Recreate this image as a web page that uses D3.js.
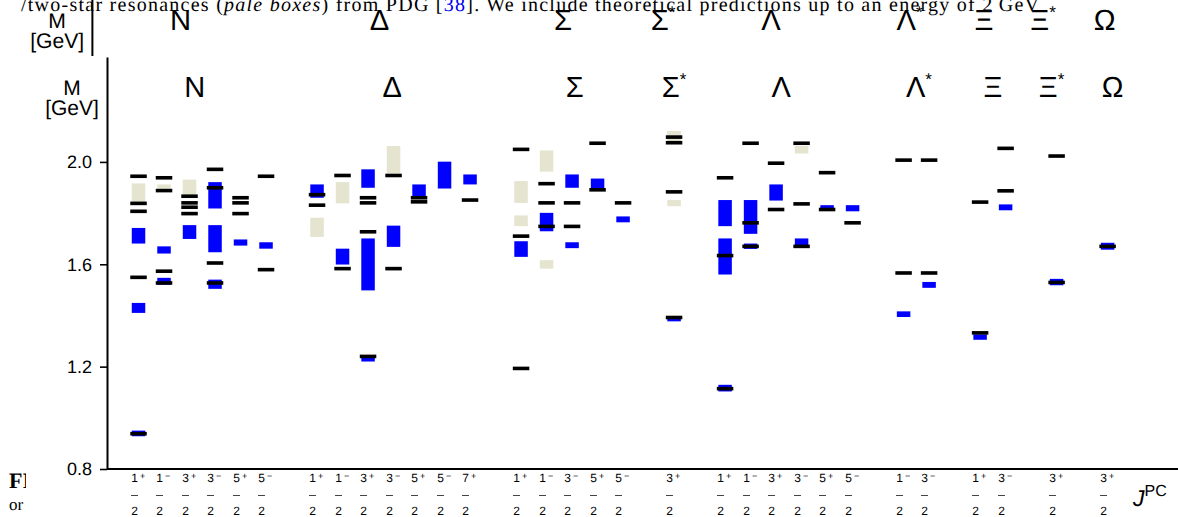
<!DOCTYPE html>
<html>
<head>
<meta charset="utf-8">
<script src="https://cdn.jsdelivr.net/npm/d3@7"></script>
<style>
  html, body { margin: 0; padding: 0; background: #fff; overflow: hidden; }
  svg { display: block; }
  svg text { text-rendering: geometricPrecision; }
</style>
</head>
<body>
<svg id="chart" width="1178" height="517"></svg>
<script>
// ---------------------------------------------------------------
// Baryon spectrum: lattice predictions (black bars) against PDG
// resonances (blue = 3/4-star, pale = 1/2-star), masses in GeV.
// ---------------------------------------------------------------

const groupNames = ["N", "Δ", "Σ", "Σ*", "Λ", "Λ*", "Ξ", "Ξ*", "Ω"];

// group index and J^P of every column, left to right
const columnGroup = [0, 0, 0, 0, 0, 0,
                     1, 1, 1, 1, 1, 1, 1,
                     2, 2, 2, 2, 2,
                     3,
                     4, 4, 4, 4, 4, 4,
                     5, 5,
                     6, 6,
                     7,
                     8];
const columnJP = ["1+", "1-", "3+", "3-", "5+", "5-",
                  "1+", "1-", "3+", "3-", "5+", "5-", "7+",
                  "1+", "1-", "3-", "5+", "5-",
                  "3+",
                  "1+", "1-", "3+", "3-", "5+", "5-",
                  "1-", "3-",
                  "1+", "3-",
                  "3+",
                  "3+"];

const yTicks = [0.8, 1.2, 1.6, 2.0];

// PDG 3/4-star states: [column, lower mass, upper mass]
const pdgStrong = [
  ["N:1+", 0.928, 0.950], ["N:1+", 1.410, 1.449], ["N:1+", 1.681, 1.742],
  ["N:1-", 1.520, 1.547], ["N:1-", 1.642, 1.670],
  ["N:3+", 1.699, 1.753],
  ["N:3-", 1.504, 1.540], ["N:3-", 1.647, 1.753], ["N:3-", 1.818, 1.921],
  ["N:5+", 1.673, 1.697],
  ["N:5-", 1.661, 1.686],
  ["Δ:1+", 1.860, 1.912],
  ["Δ:1-", 1.599, 1.661],
  ["Δ:3+", 1.220, 1.236], ["Δ:3+", 1.498, 1.701], ["Δ:3+", 1.899, 1.971],
  ["Δ:3-", 1.668, 1.751],
  ["Δ:5+", 1.860, 1.912],
  ["Δ:5-", 1.896, 2.001],
  ["Δ:7+", 1.912, 1.951],
  ["Σ:1+", 1.190, 1.196], ["Σ:1+", 1.629, 1.690],
  ["Σ:1-", 1.729, 1.801],
  ["Σ:3-", 1.663, 1.686], ["Σ:3-", 1.899, 1.951],
  ["Σ:5+", 1.896, 1.935],
  ["Σ:5-", 1.764, 1.787],
  ["Σ*:3+", 1.377, 1.390],
  ["Λ:1+", 1.103, 1.129], ["Λ:1+", 1.560, 1.701], ["Λ:1+", 1.749, 1.851],
  ["Λ:1-", 1.660, 1.681], ["Λ:1-", 1.719, 1.851],
  ["Λ:3+", 1.849, 1.912],
  ["Λ:3-", 1.670, 1.701],
  ["Λ:5+", 1.814, 1.831],
  ["Λ:5-", 1.807, 1.831],
  ["Λ*:1-", 1.394, 1.416],
  ["Λ*:3-", 1.508, 1.531],
  ["Ξ:1+", 1.305, 1.326],
  ["Ξ:3-", 1.811, 1.834],
  ["Ξ*:3+", 1.518, 1.543],
  ["Ω:3+", 1.657, 1.684]
];

// PDG 1/2-star states: [column, lower mass, upper mass]
const pdgWeak = [
  ["N:1+", 1.841, 1.916],
  ["N:1-", 1.895, 1.912],
  ["N:3+", 1.866, 1.931],
  ["Δ:1+", 1.707, 1.782],
  ["Δ:1-", 1.838, 1.921],
  ["Δ:3-", 1.955, 2.062],
  ["Σ:1+", 1.749, 1.791], ["Σ:1+", 1.840, 1.925],
  ["Σ:1-", 1.583, 1.616], ["Σ:1-", 1.962, 2.045],
  ["Σ*:3+", 1.827, 1.851], ["Σ*:3+", 2.075, 2.121],
  ["Λ:3-", 2.033, 2.062]
];

// lattice predictions: [column, mass]
const theory = [
  ["N:1+", 0.938], ["N:1+", 1.549], ["N:1+", 1.807], ["N:1+", 1.838], ["N:1+", 1.944],
  ["N:1-", 1.527], ["N:1-", 1.573], ["N:1-", 1.888], ["N:1-", 1.938],
  ["N:3+", 1.798], ["N:3+", 1.823], ["N:3+", 1.840], ["N:3+", 1.866],
  ["N:3-", 1.527], ["N:3-", 1.605], ["N:3-", 1.899], ["N:3-", 1.971],
  ["N:5+", 1.798], ["N:5+", 1.840], ["N:5+", 1.860],
  ["N:5-", 1.579], ["N:5-", 1.944],
  ["Δ:1+", 1.831], ["Δ:1+", 1.872],
  ["Δ:1-", 1.583], ["Δ:1-", 1.947],
  ["Δ:3+", 1.240], ["Δ:3+", 1.727], ["Δ:3+", 1.840], ["Δ:3+", 1.860],
  ["Δ:3-", 1.583], ["Δ:3-", 1.947],
  ["Δ:5+", 1.844], ["Δ:5+", 1.860],
  ["Δ:7+", 1.851],
  ["Σ:1+", 1.193], ["Σ:1+", 1.710], ["Σ:1+", 2.049],
  ["Σ:1-", 1.748], ["Σ:1-", 1.840], ["Σ:1-", 1.915],
  ["Σ:3-", 1.748], ["Σ:3-", 1.840],
  ["Σ:5+", 1.891], ["Σ:5+", 2.073],
  ["Σ:5-", 1.840],
  ["Σ*:3+", 1.392], ["Σ*:3+", 1.883], ["Σ*:3+", 2.075], ["Σ*:3+", 2.097],
  ["Λ:1+", 1.114], ["Λ:1+", 1.634], ["Λ:1+", 1.938],
  ["Λ:1-", 1.670], ["Λ:1-", 1.762], ["Λ:1-", 2.073],
  ["Λ:3+", 1.814], ["Λ:3+", 1.995],
  ["Λ:3-", 1.670], ["Λ:3-", 1.836], ["Λ:3-", 2.073],
  ["Λ:5+", 1.814], ["Λ:5+", 1.958],
  ["Λ:5-", 1.762],
  ["Λ*:1-", 1.566], ["Λ*:1-", 2.007],
  ["Λ*:3-", 1.566], ["Λ*:3-", 2.007],
  ["Ξ:1+", 1.332], ["Ξ:1+", 1.843],
  ["Ξ:3-", 1.887], ["Ξ:3-", 2.053],
  ["Ξ*:3+", 1.529], ["Ξ*:3+", 2.023],
  ["Ω:3+", 1.670]
];

// ---------------------------------------------------------------
const W = 1178, H = 517;
const SANS = "'Liberation Sans', Arial, Helvetica, sans-serif";
const SERIF = "'Liberation Serif', 'Times New Roman', serif";
const BLUE = "#0000ff", PALE = "#e4e4cf";

const svg = d3.select("#chart");

const columnIds = columnJP.map((jp, i) => groupNames[columnGroup[i]] + ":" + jp);
const colIndex = new Map(columnIds.map((c, i) => [c, i]));
// one empty slot separates neighbouring groups
const slotOf = i => i + columnGroup[i];

const x = d3.scaleLinear().domain([-1.236, 40.76]).range([107, W]);
const y = d3.scaleLinear().domain([0.8, 2.41]).range([469, 57]);
const colX = id => x(slotOf(colIndex.get(id)));

// group label anchors, in slot units
const labelSlot = [2.2, 9.95, 17.1, 21.0, 25.2, 30.6, 33.5, 35.8, 38.2];

function drawHeader(g, withAxisLine) {
  if (withAxisLine) {
    g.append("line")
      .attr("x1", x.range()[0]).attr("x2", x.range()[0])
      .attr("y1", y.range()[1]).attr("y2", y.range()[0])
      .attr("stroke", "#000").attr("stroke-width", 2);
  }
  g.append("text").attr("x", 72).attr("y", 95)
    .attr("text-anchor", "middle").attr("font-family", SANS).attr("font-size", 21)
    .text("M");
  g.append("text").attr("x", 72).attr("y", 115)
    .attr("text-anchor", "middle").attr("font-family", SANS).attr("font-size", 21)
    .text("[GeV]");
  groupNames.forEach((name, i) => {
    const base = name.replace("*", "");
    const t = g.append("text")
      .attr("x", x(labelSlot[i])).attr("y", 97)
      .attr("text-anchor", "middle")
      .attr("font-family", SANS).attr("font-size", 29)
      .text(base);
    if (name.endsWith("*")) {
      t.append("tspan").attr("font-size", 17).attr("dy", -12).text("*");
    }
  });
}

// ---- page text surrounding the figure ----
const page = svg.append("g");

// copy of the figure header printed higher on the page
const ghost = page.append("g").attr("transform", "translate(-15.3,-68) scale(1.0065)");
drawHeader(ghost, true);

const line = page.append("text")
  .attr("x", 21).attr("y", 10.5)
  .attr("font-family", SERIF).attr("font-size", 20)
  .attr("textLength", 1018).attr("lengthAdjust", "spacing");
line.append("tspan").text("/two-star resonances (");
line.append("tspan").attr("font-style", "italic").text("pale boxes");
line.append("tspan").text(") from PDG [");
line.append("tspan").attr("fill", "#0000ee").text("38");
line.append("tspan").text("]. We include theoretical predictions up to an energy of 2\u2009GeV");

page.append("text").attr("x", 9).attr("y", 488)
  .attr("font-family", SERIF).attr("font-size", 22).attr("font-weight", "bold")
  .text("FIG. 2");
page.append("text").attr("x", 9).attr("y", 510)
  .attr("font-family", SERIF).attr("font-size", 17)
  .text("or the");

// ---- figure canvas ----
svg.append("rect").attr("x", 26).attr("y", 56)
  .attr("width", W - 26).attr("height", H - 56).attr("fill", "#fff");

const fig = svg.append("g");
drawHeader(fig, false);

// y axis
const yAxis = fig.append("g")
  .attr("transform", `translate(${x.range()[0]},0)`)
  .call(d3.axisLeft(y).tickValues(yTicks).tickFormat(d3.format(".1f"))
    .tickSize(7).tickSizeOuter(0).tickPadding(8));
yAxis.select(".domain").attr("stroke-width", 2);
yAxis.selectAll(".tick line").attr("stroke-width", 1.6);
yAxis.selectAll(".tick text").attr("font-family", SANS).attr("font-size", 18).attr("fill", "#000");

// x axis line
fig.append("line")
  .attr("x1", x.range()[0]).attr("x2", x.range()[1])
  .attr("y1", y(0.8)).attr("y2", y(0.8))
  .attr("stroke", "#000").attr("stroke-width", 2);

// PDG boxes
const BOX_W = 13.5, BAR_W = 16.5, BAR_H = 3.6;
fig.append("g").selectAll("rect").data(pdgWeak).join("rect")
  .attr("x", d => colX(d[0]) - BOX_W / 2)
  .attr("width", BOX_W)
  .attr("y", d => y(d[2]))
  .attr("height", d => y(d[1]) - y(d[2]))
  .attr("fill", PALE);

fig.append("g").selectAll("rect").data(pdgStrong).join("rect")
  .attr("x", d => colX(d[0]) - BOX_W / 2)
  .attr("width", BOX_W)
  .attr("y", d => y(d[2]))
  .attr("height", d => y(d[1]) - y(d[2]))
  .attr("fill", BLUE);

// lattice levels
fig.append("g").selectAll("rect").data(theory).join("rect")
  .attr("x", d => colX(d[0]) - BAR_W / 2)
  .attr("width", BAR_W)
  .attr("y", d => y(d[1]) - BAR_H / 2)
  .attr("height", BAR_H)
  .attr("fill", "#000");

// J^P labels under each column, written as stacked fractions
const jpG = fig.append("g").attr("font-family", SANS).attr("fill", "#000")
  .attr("opacity", 0.999);
columnIds.forEach((id, i) => {
  const cx = Math.round(colX(id));
  const jp = columnJP[i];
  const num = jp.slice(0, -1), sign = jp.slice(-1) === "+" ? "+" : "\u2212";
  jpG.append("text").attr("x", cx - 4.5).attr("y", 482)
    .attr("text-anchor", "middle").attr("font-size", 12).attr("fill", "#000").text(num);
  jpG.append("text").attr("x", cx + 3.6).attr("y", 479)
    .attr("text-anchor", "middle").attr("font-size", 9).attr("fill", "#000").text(sign);
  jpG.append("line")
    .attr("x1", cx - 8).attr("x2", cx - 1)
    .attr("y1", 495.5).attr("y2", 495.5)
    .attr("stroke", "#444").attr("stroke-width", 1);
  jpG.append("text").attr("x", cx - 4.5).attr("y", 515)
    .attr("text-anchor", "middle").attr("font-size", 12).attr("fill", "#000").text("2");
});

// axis title for the quantum numbers
const jt = fig.append("text").attr("x", 1133).attr("y", 506)
  .attr("font-family", SANS).attr("font-size", 23);
jt.append("tspan").attr("font-style", "italic").text("J");
jt.append("tspan").attr("font-size", 16).attr("dy", -10).text("PC");
</script>
</body>
</html>
